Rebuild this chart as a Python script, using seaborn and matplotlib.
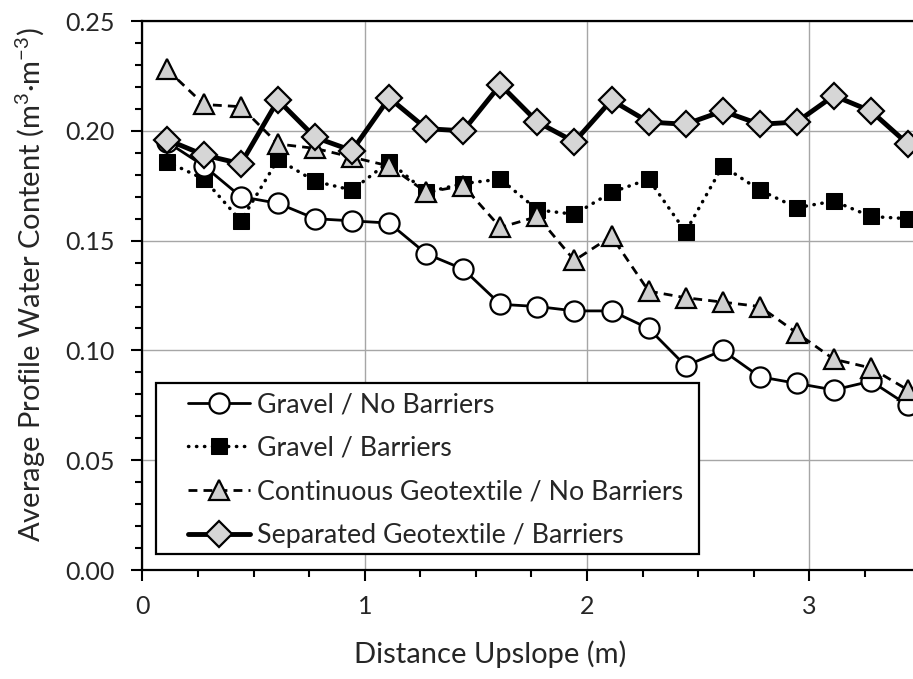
import numpy as np
import pandas as pd
import matplotlib
matplotlib.use("Agg")
import matplotlib.pyplot as plt
import seaborn as sns
from matplotlib.patches import Rectangle
from matplotlib.ticker import MultipleLocator, FormatStrFormatter

# distance upslope (m) and average profile water content for each treatment
distance = [0.11, 0.277, 0.443, 0.61, 0.777, 0.943, 1.11, 1.277, 1.443, 1.61, 1.777,
            1.943, 2.11, 2.277, 2.443, 2.61, 2.777, 2.943, 3.11, 3.277, 3.443]
gravel_no_barriers = [0.195, 0.184, 0.170, 0.167, 0.160, 0.159, 0.158, 0.144, 0.137, 0.121, 0.120,
                      0.118, 0.118, 0.110, 0.093, 0.100, 0.088, 0.085, 0.082, 0.086, 0.075]
gravel_barriers = [0.186, 0.178, 0.159, 0.187, 0.177, 0.173, 0.186, 0.172, 0.176, 0.178, 0.164,
                   0.162, 0.172, 0.178, 0.154, 0.184, 0.173, 0.165, 0.168, 0.161, 0.160]
cont_geo_no_barriers = [0.228, 0.212, 0.211, 0.194, 0.192, 0.188, 0.184, 0.172, 0.175, 0.156, 0.161,
                        0.141, 0.152, 0.127, 0.124, 0.122, 0.120, 0.108, 0.096, 0.092, 0.082]
sep_geo_barriers = [0.196, 0.189, 0.185, 0.214, 0.197, 0.191, 0.215, 0.201, 0.200, 0.221, 0.204,
                    0.195, 0.214, 0.204, 0.203, 0.209, 0.203, 0.204, 0.216, 0.209, 0.194]

labels = ["Gravel / No Barriers", "Gravel / Barriers",
          "Continuous Geotextile / No Barriers", "Separated Geotextile / Barriers"]

sns.set_style("white")
plt.rcParams['font.family'] = ['Lato', 'DejaVu Sans']

fig = plt.figure(figsize=(9.13, 6.79), dpi=100)
ax = fig.add_axes([0.156, 0.1605, 0.844, 0.8085])

# draw order: squares under circles, triangles, then diamonds on top
sns.lineplot(x=distance, y=gravel_no_barriers, ax=ax, color='black', linewidth=2,
             marker='o', markersize=14.5, markerfacecolor='white', markeredgecolor='black',
             markeredgewidth=1.6, label=labels[0], zorder=3)
sns.lineplot(x=distance, y=gravel_barriers, ax=ax, color='black', linewidth=2.5,
             linestyle=(0, (0.1, 2.2)), dash_capstyle='round',
             marker='s', markersize=12, markerfacecolor='black', markeredgecolor='black',
             label=labels[1], zorder=2)
sns.lineplot(x=distance, y=cont_geo_no_barriers, ax=ax, color='black', linewidth=2,
             linestyle=(0, (3.2, 2.2)),
             marker='^', markersize=15, markerfacecolor='#d0d0d0', markeredgecolor='black',
             markeredgewidth=1.6, label=labels[2], zorder=4)
sns.lineplot(x=distance, y=sep_geo_barriers, ax=ax, color='black', linewidth=3.5,
             marker='D', markersize=13.5, markerfacecolor='#d6d6d6', markeredgecolor='black',
             markeredgewidth=1.6, label=labels[3], zorder=5)

ax.set_xlim(0, 3.466)
ax.set_ylim(0, 0.25)
ax.xaxis.set_major_locator(MultipleLocator(1))
ax.xaxis.set_minor_locator(MultipleLocator(0.25))
ax.yaxis.set_major_locator(MultipleLocator(0.05))
ax.yaxis.set_minor_locator(MultipleLocator(0.01))
ax.yaxis.set_major_formatter(FormatStrFormatter('%.2f'))
ax.xaxis.set_major_formatter(FormatStrFormatter('%d'))

ax.grid(True, which='major', color='#a6a6a6', linewidth=1)
ax.set_axisbelow(True)
ax.tick_params(which='major', direction='out', length=8, width=1.5, color='black',
               labelsize=18)
ax.tick_params(which='minor', direction='out', length=5, width=1.5, color='black')
ax.tick_params(axis='x', which='both', bottom=True)
ax.tick_params(axis='x', which='major', pad=10)
ax.tick_params(axis='y', which='both', left=True)
ax.tick_params(axis='y', which='major', pad=12)

for side in ['left', 'bottom', 'top']:
    ax.spines[side].set_color('black')
    ax.spines[side].set_linewidth(1.6)
ax.spines['right'].set_visible(False)

ax.set_xlabel("Distance Upslope (m)", fontsize=21, va='top')
ax.xaxis.set_label_coords(0.451, -0.129)
ax.set_ylabel(r"Average Profile Water Content (m$^\mathregular{3}$·m$^\mathregular{-3}$)",
              fontsize=21)
ax.yaxis.set_label_coords(-0.122, 0.519)

# legend box drawn separately so the entries can sit with a wider left margin
ax.add_patch(Rectangle((0.0178, 0.0291), 0.7046, 0.3115, transform=ax.transAxes,
                       facecolor='white', edgecolor='black', linewidth=1.6,
                       zorder=6, clip_on=False))
leg = ax.legend(loc='lower left', bbox_to_anchor=(0.0593, 0.0395), borderaxespad=0,
                fontsize=19.3, frameon=False, handlelength=2.3, handletextpad=0.28,
                labelspacing=0.70, borderpad=0)
leg.set_zorder(7)

fig.savefig("out.png", dpi=100)
